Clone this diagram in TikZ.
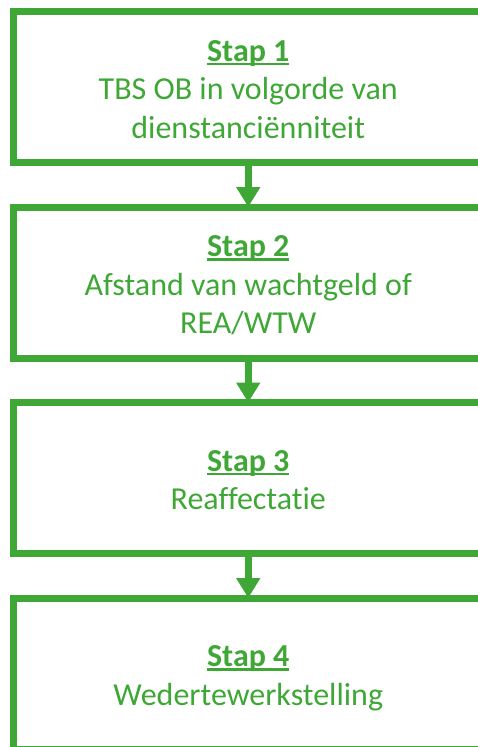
\documentclass[tikz,border=0pt]{standalone}
\usepackage{fontspec}
\setmainfont{Carlito}[Ligatures={NoCommon}]
\usetikzlibrary{positioning,arrows.meta}
\definecolor{stapgroen}{RGB}{62,167,54}
\newcommand{\stapkop}[1]{\setbox0\hbox{\textbf{#1}}\rlap{\rule[-4pt]{\wd0}{2.5pt}}\box0}
\newcommand{\stapstrut}{\rule{0pt}{36.75pt}}

\begin{document}
\begin{tikzpicture}[x=1pt,y=1pt]
	\tikzset{stapbox/.style={draw=stapgroen,line width=7pt,outer sep=0pt,minimum width=469.5pt,minimum height=151pt,align=center,text=stapgroen,font=\fontsize{32}{38.5}\selectfont}}
	\tikzset{stappijl/.style={draw=stapgroen,line width=7pt,-{Triangle[width=23pt,length=20pt]}}}
	\tikzset{node distance=44.5pt}
	\useasboundingbox (0,0) rectangle (477,-747);
	\node[stapbox] (stap1) at (248.25,-87) {\stapstrut\stapkop{Stap 1}\\TBS OB in volgorde van\\dienstanciënniteit\strut};
	\node[stapbox,below=of stap1] (stap2) {\stapstrut\stapkop{Stap 2}\\Afstand van wachtgeld of\\REA/WTW\strut};
	\node[stapbox,below=of stap2] (stap3) {\stapstrut\stapkop{Stap 3}\\Reaffectatie\strut};
	\node[stapbox,below=of stap3] (stap4) {\stapstrut\stapkop{Stap 4}\\Wedertewerkstelling\strut};
	\draw[stappijl] (stap1) -- (stap2);
	\draw[stappijl] (stap2) -- (stap3);
	\draw[stappijl] (stap3) -- (stap4);
\end{tikzpicture}
\end{document}
